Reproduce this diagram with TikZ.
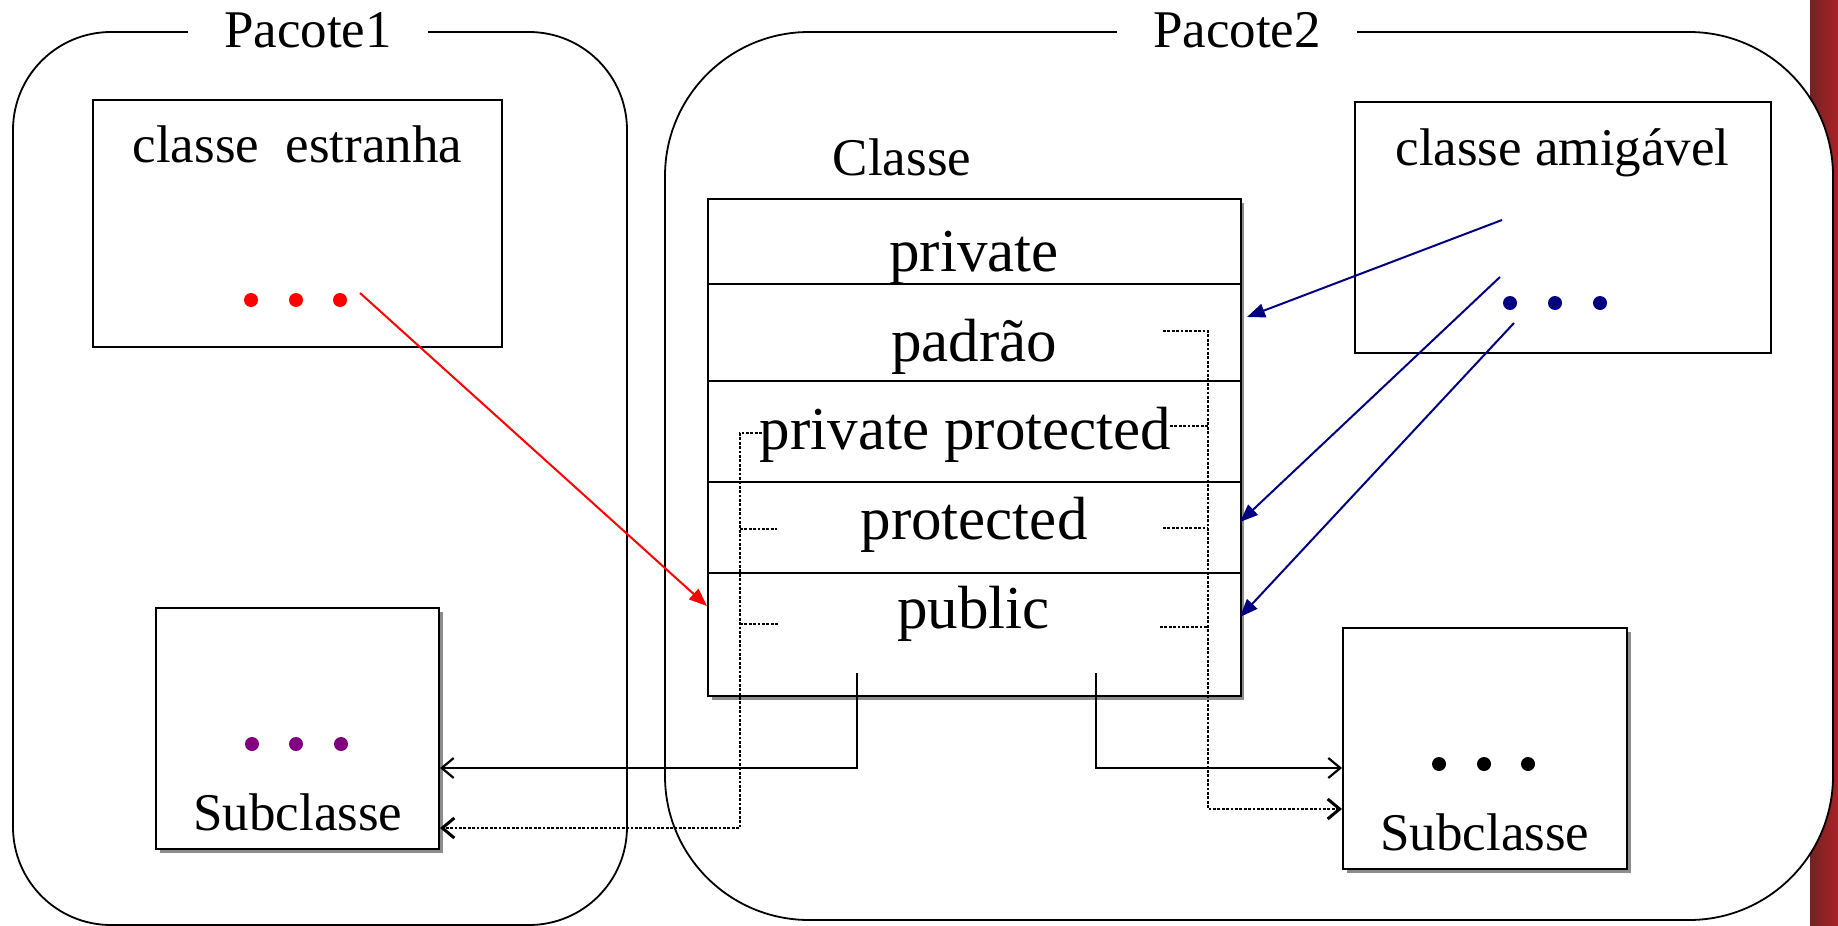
\documentclass[tikz,border=0pt]{standalone}
\usepackage{fontspec}
\setmainfont{Liberation Serif}
\usetikzlibrary{arrows.meta,shadows}
\definecolor{navyline}{RGB}{0,0,128}
\definecolor{dotpurple}{RGB}{128,0,128}
\definecolor{bardark}{RGB}{115,34,34}
\definecolor{barred}{RGB}{170,34,38}
\tikzset{
  pkg/.style={draw=black, line width=0.9pt, fill=white},
  pkgtitle/.style={fill=white, inner xsep=18pt, inner ysep=1pt, anchor=base,
    font=\fontsize{26.5}{30}\selectfont},
  classbox/.style={draw=black, line width=1pt, fill=white, inner sep=0pt},
  shadowed/.style={drop shadow={shadow xshift=1.8pt, shadow yshift=-1.8pt,
    fill=black!45, opacity=1}},
  lbl/.style={anchor=base, inner sep=0pt, font=\fontsize{26.5}{30}\selectfont},
  rowlbl/.style={anchor=base, inner sep=0pt, font=\fontsize{30.5}{34}\selectfont},
  dotmark/.style={circle, fill=#1, inner sep=0pt, minimum size=7pt},
  sepline/.style={line width=1pt},
  redarrow/.style={draw=red, line width=1pt, -{Triangle[length=9pt,width=7pt]}},
  bluearrow/.style={draw=navyline, line width=1pt, -{Triangle[length=9pt,width=7pt]}},
  inherit/.style={line width=1pt, -{Straight Barb[length=6pt,width=10pt,line width=1.1pt]}},
  dotconn/.style={line width=1.1pt, dash pattern=on 1.4pt off 0.8pt},
  dotinherit/.style={dotconn, -{Straight Barb[length=6pt,width=10pt,line width=1.5pt]}},
}
\begin{document}
\begin{tikzpicture}[x=0.5pt, y=-0.5pt]
\useasboundingbox (0,0) rectangle (1838,926);

% decorative bar at the right edge of the slide
\fill[left color=bardark, right color=barred] (1810,0) rectangle (1838,926);

% packages
\draw[pkg, rounded corners=49pt] (13,32) rectangle (627,925);
\draw[pkg, rounded corners=72pt] (665,32) rectangle (1833,920);
\node[pkgtitle] (t1) at (308,47) {Pacote1};
\node[pkgtitle] (t2) at (1237,47) {Pacote2};

% classes
\node[classbox, minimum width=204.5pt, minimum height=123.7pt] (estranha) at (297.2,223.3) {};
\node[classbox, minimum width=208pt, minimum height=125.5pt] (amigavel) at (1563,227.5) {};
\node[classbox, shadowed, minimum width=266.3pt, minimum height=248.3pt] (classe) at (974.3,447.7) {};
\node[classbox, shadowed, minimum width=141.5pt, minimum height=120.5pt] (sub1) at (297.5,728.5) {};
\node[classbox, shadowed, minimum width=142pt, minimum height=120.5pt] (sub2) at (1485,748.5) {};

% rows of the class
\coordinate (y1) at (0,284);
\coordinate (y2) at (0,381);
\coordinate (y3) at (0,482);
\coordinate (y4) at (0,573);
\foreach \r in {y1,y2,y3,y4}
  \draw[sepline] (classe.west |- \r) -- (classe.east |- \r);

% labels
\node[lbl] (testr) at (297.5,162) {classe\ \ estranha};
\node[lbl] (tcls) at (902,175) {Classe};
\node[lbl] (tamig) at (1562.5,165) {classe amigável};
\node[rowlbl] (rpriv) at (974,271) {private};
\node[rowlbl] (rpad) at (974,361) {padrão};
\node[rowlbl] (rpp) at (965.5,449) {private protected};
\node[rowlbl] (rprot) at (974,539) {protected};
\node[rowlbl] (rpub) at (973.5,628) {public};
\node[lbl] (tsub1) at (298,830) {Subclasse};
\node[lbl] (tsub2) at (1485,850) {Subclasse};

% ellipsis marks
\node[dotmark=red] (e1) at (251,300) {};
\node[dotmark=red] (e2) at (296,300) {};
\node[dotmark=red] (e3) at (340,300) {};
\node[dotmark=navyline] (a1) at (1510,303) {};
\node[dotmark=navyline] (a2) at (1555,303) {};
\node[dotmark=navyline] (a3) at (1600,303) {};
\node[dotmark=dotpurple] (s1) at (252,744) {};
\node[dotmark=dotpurple] (s2) at (296,744) {};
\node[dotmark=dotpurple] (s3) at (341,744) {};
\node[dotmark=black] (d1) at (1439,764) {};
\node[dotmark=black] (d2) at (1484,764) {};
\node[dotmark=black] (d3) at (1528,764) {};

% access from the foreign class
\coordinate (rstart) at (360,293);
\coordinate (rrow) at (0,606);
\draw[redarrow] (rstart) -- (classe.west |- rrow);

% access from the friendly class
\coordinate (b1s) at (1502,220); \coordinate (b1e) at (1247,317);
\coordinate (b2s) at (1500,277); \coordinate (b2e) at (1240,522);
\coordinate (b3s) at (1514,323); \coordinate (b3e) at (1240,617);
\draw[bluearrow] (b1s) -- (b1e);
\draw[bluearrow] (b2s) -- (b2e);
\draw[bluearrow] (b3s) -- (b3e);

% inheritance (solid)
\coordinate (ls) at (857,673);
\coordinate (rs) at (1096,673);
\coordinate (lrow) at (0,768);
\draw[inherit] (ls) |- (sub1.east |- lrow);
\draw[inherit] (rs) |- (sub2.west |- lrow);

% inheritance (dotted)
\coordinate (pdA) at (1163,331); \coordinate (pdB) at (1208,331);
\coordinate (drowR) at (0,809);
\draw[dotinherit] (pdA) -- (pdB) |- (sub2.west |- drowR);
\draw[dotconn] (1170,426) -- (1208,426);
\draw[dotconn] (1163,528) -- (1208,528);
\draw[dotconn] (1160,627) -- (1208,627);

\coordinate (ppA) at (762,433); \coordinate (ppB) at (740,433);
\coordinate (drowL) at (0,828);
\draw[dotinherit] (ppA) -- (ppB) |- (sub1.east |- drowL);
\draw[dotconn] (740,529) -- (777,529);
\draw[dotconn] (740,624) -- (779,624);
\end{tikzpicture}
\end{document}
